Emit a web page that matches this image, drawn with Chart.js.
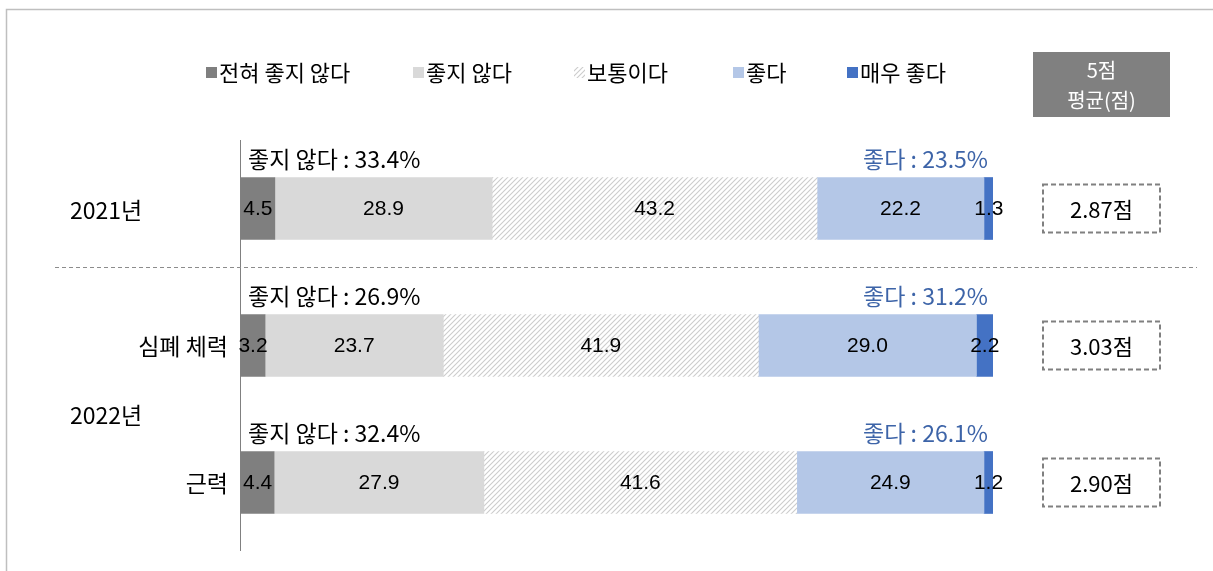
<!DOCTYPE html>
<html><head><meta charset="utf-8">
<script src="https://cdn.jsdelivr.net/npm/chart.js@4"></script>
<style>html,body{margin:0;padding:0;background:#fff}#wrap{width:1213px;height:571px;position:relative}</style>
</head><body><div id="wrap"><canvas id="c" width="1213" height="571"></canvas></div>
<script>
const categories = ['2021년', '심폐 체력', '근력'];
const groupLabels = ['2021년', '2022년'];
const seriesNames = ['전혀 좋지 않다', '좋지 않다', '보통이다', '좋다', '매우 좋다'];
const veryBad = [4.5, 3.2, 4.4];
const bad = [28.9, 23.7, 27.9];
const neutral = [43.2, 41.9, 41.6];
const good = [22.2, 29.0, 24.9];
const veryGood = [1.3, 2.2, 1.2];
const badTotal = [33.4, 26.9, 32.4];
const goodTotal = [23.5, 31.2, 26.1];
const scores = ['2.87', '3.03', '2.90'];

const FONT = '"Noto Sans CJK KR", "Noto Sans", sans-serif';
const NUMFONT = '"Liberation Sans", Arial, sans-serif';

function hatch() {
  const p = document.createElement('canvas');
  p.width = 5; p.height = 5;
  const g = p.getContext('2d');
  g.fillStyle = '#ffffff'; g.fillRect(0, 0, 5, 5);
  g.strokeStyle = '#cccccc'; g.lineWidth = 1.1;
  g.beginPath();
  g.moveTo(0, 5); g.lineTo(5, 0);
  g.moveTo(-2.5, 2.5); g.lineTo(2.5, -2.5);
  g.moveTo(2.5, 7.5); g.lineTo(7.5, 2.5);
  g.stroke();
  return document.getElementById('c').getContext('2d').createPattern(p, 'repeat');
}
const hatchPat = hatch();
const colors = ['#7f7f7f', '#d9d9d9', hatchPat, '#b4c7e7', '#4472c4'];
const seriesData = [veryBad, bad, neutral, good, veryGood];

const deco = {
  id: 'deco',
  afterDatasetsDraw(chart) {
    const ctx = chart.ctx;
    const xs = chart.scales.x, ys = chart.scales.y;
    ctx.save();
    // outer frame
    ctx.strokeStyle = '#bfbfbf'; ctx.lineWidth = 1.5;
    ctx.beginPath(); ctx.moveTo(6.5, 571); ctx.lineTo(6.5, 9.5); ctx.lineTo(1213, 9.5); ctx.stroke();
    // axis line
    ctx.strokeStyle = '#808080'; ctx.lineWidth = 1;
    ctx.beginPath(); ctx.moveTo(xs.getPixelForValue(0) - 0.5, chart.chartArea.top); ctx.lineTo(xs.getPixelForValue(0) - 0.5, chart.chartArea.bottom); ctx.stroke();
    // dashed separator
    ctx.strokeStyle = '#8c8c8c'; ctx.setLineDash([4, 3]);
    ctx.beginPath(); ctx.moveTo(55, 267.5); ctx.lineTo(1197, 267.5); ctx.stroke();
    ctx.setLineDash([]);

    // data labels
    ctx.font = '21px ' + NUMFONT; ctx.fillStyle = '#000'; ctx.textAlign = 'center'; ctx.textBaseline = 'middle';
    chart.data.datasets.forEach((ds, di) => {
      const meta = chart.getDatasetMeta(di);
      meta.data.forEach((bar, i) => {
        const cx = (bar.x + bar.base) / 2;
        ctx.fillText(ds.data[i].toFixed(1), cx, bar.y + 1);
      });
    });

    // category labels
    ctx.font = '23px ' + FONT; ctx.fillStyle = '#000';
    const y0 = ys.getPixelForValue(0), y1 = ys.getPixelForValue(1), y2 = ys.getPixelForValue(2);
    ctx.textAlign = 'left';
    ctx.fillText(groupLabels[0], 70, y0 + 2);
    ctx.fillText(groupLabels[1], 70, (y1 + y2) / 2 + 1);
    ctx.textAlign = 'right';
    ctx.fillText(categories[1], 228, y1 + 1);
    ctx.fillText(categories[2], 228, y2 + 1);

    // annotations above bars
    categories.forEach((c, i) => {
      const y = ys.getPixelForValue(i);
      ctx.font = '23px ' + FONT;
      ctx.textAlign = 'left'; ctx.fillStyle = '#000';
      ctx.fillText('좋지 않다 : ' + badTotal[i].toFixed(1) + '%', 248, y - 49);
      ctx.textAlign = 'right'; ctx.fillStyle = '#3d64a8';
      ctx.fillText('좋다 : ' + goodTotal[i].toFixed(1) + '%', 988, y - 49);
      // score boxes
      ctx.strokeStyle = '#808080'; ctx.lineWidth = 2; ctx.setLineDash([5, 3]);
      ctx.strokeRect(1043, y - 24, 117, 48);
      ctx.setLineDash([]);
      ctx.fillStyle = '#000'; ctx.textAlign = 'center'; ctx.font = '22px ' + FONT;
      ctx.fillText(scores[i] + '점', 1101.5, y + 1);
    });

    // header box
    ctx.fillStyle = '#808080';
    ctx.fillRect(1033, 52, 137, 65);
    ctx.fillStyle = '#fff'; ctx.textAlign = 'center'; ctx.font = '20px ' + FONT;
    ctx.fillText('5점', 1101.5, 70);
    ctx.fillText('평균(점)', 1101.5, 100);

    // legend
    const lx = [206, 413, 574, 733, 847];
    ctx.textAlign = 'left'; ctx.font = '22px ' + FONT;
    seriesNames.forEach((n, i) => {
      ctx.fillStyle = colors[i];
      ctx.fillRect(lx[i], 67, 11, 11);
      ctx.fillStyle = '#000';
      ctx.fillText(n, lx[i] + 13, 73);
    });
    ctx.restore();
  }
};

new Chart(document.getElementById('c'), {
  type: 'bar',
  data: {
    labels: categories,
    datasets: seriesNames.map((n, i) => ({
      label: n, data: seriesData[i], backgroundColor: colors[i], borderWidth: 0,
      barThickness: 62
    }))
  },
  options: {
    indexAxis: 'y',
    responsive: false,
    animation: false,
    layout: { padding: { left: 241, right: 220, top: 140, bottom: 20 } },
    scales: {
      x: { stacked: true, min: 0, max: 100, display: false },
      y: { stacked: true, display: false }
    },
    plugins: { legend: { display: false }, tooltip: { enabled: false } }
  },
  plugins: [deco]
});
</script></body></html>
